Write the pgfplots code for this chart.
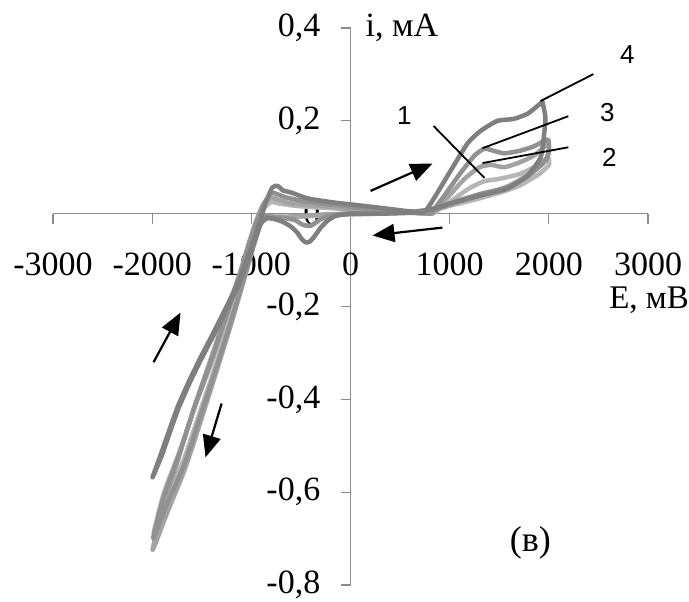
\documentclass[border=0pt]{standalone}
\usepackage{pgfplots}
\pgfplotsset{compat=1.18}
\usepackage{fontspec}
\setmainfont{Liberation Serif}
\newfontfamily\sansf{Liberation Sans}
\usetikzlibrary{arrows.meta}
\definecolor{axgray}{HTML}{8C8C8C}
\definecolor{cD}{HTML}{7F7F7F}
\definecolor{cC3}{HTML}{919191}
\definecolor{cC2}{HTML}{A3A3A3}
\definecolor{cC1}{HTML}{B6B6B6}
\begin{document}
\begin{tikzpicture}
\begin{axis}[name=ax, scale only axis, width=595pt, height=557pt,
 xmin=-3000, xmax=3000, ymin=-0.8, ymax=0.4,
 axis lines=middle, axis line style={draw=axgray, line width=1.2pt, -},
 hide obscured x ticks=false, hide obscured y ticks=false,
 xtick={-3000,-2000,-1000,0,1000,2000,3000},
 xticklabels={-3000,-2000,-1000,0,1000,2000,3000},
 ytick={-0.8,-0.6,-0.4,-0.2,0,0.2,0.4},
 yticklabels={{-0,8},{-0,6},{-0,4},{-0,2},0,{0,2},{0,4}},
 tick style={draw=axgray, line width=1.2pt},
 major tick length=10pt, tick align=outside,
 tick label style={font=\fontsize{34}{40}\selectfont, inner sep=0pt},
 xticklabel style={anchor=north, yshift=-29pt},
 yticklabel style={anchor=east, xshift=-20pt},
 xlabel={E, мВ}, ylabel={i, мА},
 xlabel style={at={(axis description cs:1,0.6667)}, anchor=north east, xshift=41pt, yshift=-73pt, inner sep=0pt, font=\fontsize{33}{38}\selectfont},
 ylabel style={at={(axis description cs:0.5,1)}, anchor=west, rotate=0, xshift=15pt, inner sep=0pt, font=\fontsize{34}{40}\selectfont},
 clip=false, scaled ticks=false,
 every axis plot/.append style={line width=4.5pt, line join=round, line cap=round, smooth, tension=0.35},
]
% cycle 1 (lightest)
\addplot[color=cC1] coordinates {
(830,0.0)(1000,0.025)(1200,0.055)(1350,0.07)(1500,0.075)(1700,0.085)(1850,0.1)(1990,0.12)(2000,0.105)(1900,0.085)(1700,0.06)(1500,0.045)(1250,0.03)(1000,0.017)(850,0.008)
(600,0.003)(300,0.0)(0,-0.002)(-300,-0.004)(-600,-0.008)(-800,-0.008)(-880,-0.006)
(-927,-0.03)(-988,-0.07)(-1079,-0.137)(-1210,-0.23)(-1341,-0.316)(-1512,-0.423)(-1683,-0.531)(-1865,-0.615)(-1986,-0.689)
(-1880,-0.6)(-1720,-0.51)(-1560,-0.41)(-1400,-0.32)(-1250,-0.225)(-1110,-0.135)(-1010,-0.065)(-940,-0.02)(-880,0.01)(-800,0.025)(-720,0.022)(-600,0.018)(-400,0.014)(-200,0.012)(0,0.008)(300,0.004)(600,0.002)(830,0.0)
};
% cycle 2
\addplot[color=cC2] coordinates {
(820,0.0)(1000,0.04)(1150,0.075)(1300,0.1)(1420,0.105)(1550,0.1)(1700,0.11)(1850,0.125)(1990,0.15)(2000,0.13)(1950,0.11)(1800,0.085)(1600,0.06)(1400,0.045)(1150,0.03)(900,0.012)
(600,0.004)(300,0.001)(0,0.0)(-300,-0.002)(-600,-0.006)(-800,-0.006)(-870,-0.004)
(-920,-0.03)(-980,-0.072)(-1070,-0.14)(-1200,-0.235)(-1330,-0.325)(-1500,-0.44)(-1670,-0.55)(-1850,-0.645)(-1996,-0.725)
(-1900,-0.64)(-1740,-0.53)(-1580,-0.42)(-1420,-0.32)(-1270,-0.225)(-1120,-0.13)(-1020,-0.06)(-950,-0.015)(-880,0.02)(-800,0.035)(-730,0.03)(-600,0.022)(-400,0.018)(-200,0.015)(0,0.01)(300,0.005)(600,0.002)(820,0.0)
};
% cycle 3
\addplot[color=cC3] coordinates {
(810,0.0)(950,0.04)(1100,0.085)(1250,0.125)(1350,0.14)(1450,0.135)(1550,0.13)(1700,0.135)(1850,0.145)(1990,0.16)(2000,0.14)(1980,0.12)(1900,0.10)(1750,0.075)(1550,0.055)(1300,0.042)(1000,0.022)(820,0.006)
(600,0.003)(300,0.001)(0,0.0)(-200,-0.004)(-300,-0.012)(-400,-0.026)(-480,-0.024)(-560,-0.014)(-680,-0.009)(-800,-0.008)(-870,-0.005)
(-925,-0.03)(-985,-0.07)(-1075,-0.138)(-1205,-0.232)(-1335,-0.32)(-1505,-0.43)(-1675,-0.54)(-1860,-0.63)(-1990,-0.70)
(-1890,-0.615)(-1730,-0.52)(-1570,-0.415)(-1410,-0.32)(-1260,-0.225)(-1115,-0.133)(-1015,-0.062)(-945,-0.017)(-875,0.02)(-800,0.045)(-740,0.042)(-650,0.035)(-500,0.028)(-300,0.022)(-100,0.018)(100,0.012)(400,0.006)(650,0.002)(810,0.0)
};
% cycle 4 (darkest)
\addplot[color=cD] coordinates {
(1935,0.241)(1966,0.206)(1945,0.157)(1915,0.12)(1784,0.082)(1583,0.054)(1310,0.039)(1008,0.022)(806,0.009)
(600,0.002)(300,0.0)(0,0.0)(-150,-0.005)(-230,-0.015)(-300,-0.03)(-360,-0.048)(-410,-0.06)(-450,-0.062)(-490,-0.055)(-540,-0.04)(-600,-0.028)(-680,-0.018)(-760,-0.012)(-840,-0.01)
(-905,-0.022)(-968,-0.06)(-1038,-0.103)(-1129,-0.153)(-1240,-0.202)(-1371,-0.258)(-1502,-0.312)(-1623,-0.365)(-1734,-0.419)(-1825,-0.473)(-1905,-0.522)(-1996,-0.568)
(-1915,-0.52)(-1835,-0.471)(-1744,-0.417)(-1633,-0.363)(-1512,-0.310)(-1381,-0.256)(-1250,-0.200)(-1139,-0.151)(-1048,-0.101)(-978,-0.058)(-917,-0.019)(-857,0.022)(-790,0.056)(-736,0.060)(-680,0.05)(-605,0.046)(-433,0.033)(-202,0.025)(0,0.02)(202,0.015)(400,0.01)(600,0.005)(756,0.006)
(1008,0.092)(1179,0.151)(1310,0.178)(1482,0.2)(1643,0.204)(1784,0.215)(1885,0.232)(1935,0.241)
};
% annotation arrows
\draw[black, line width=2.2pt, -{Triangle[length=22pt,width=18pt]}] (axis cs:202,0.049) -- (axis cs:827,0.108);
\draw[black, line width=2.2pt, -{Triangle[length=22pt,width=18pt]}] (axis cs:927,-0.030) -- (axis cs:222,-0.047);
\draw[black, line width=2.2pt, -{Triangle[length=22pt,width=18pt]}] (axis cs:-1986,-0.320) -- (axis cs:-1714,-0.213);
\draw[black, line width=2.2pt, -{Triangle[length=22pt,width=18pt]}] (axis cs:-1300,-0.409) -- (axis cs:-1462,-0.525);
% pointer lines
\draw[black, line width=1.8pt] (axis cs:1915,0.2425) -- (axis cs:2449,0.3006);
\draw[black, line width=1.8pt] (axis cs:1331,0.141) -- (axis cs:2197,0.210);
\draw[black, line width=1.8pt] (axis cs:1331,0.109) -- (axis cs:2197,0.143);
\draw[black, line width=1.8pt] (axis cs:837,0.189) -- (axis cs:1351,0.077);
\node[font=\sansf\fontsize{26}{30}\selectfont] at (axis cs:2792,0.342) {4};
\node[font=\sansf\fontsize{26}{30}\selectfont] at (axis cs:2591,0.217) {3};
\node[font=\sansf\fontsize{26}{30}\selectfont] at (axis cs:2611,0.122) {2};
\node[font=\sansf\fontsize{26}{30}\selectfont] at (axis cs:544,0.212) {1};
\node[font=\fontsize{36}{40}\selectfont] at (axis cs:1814,-0.71) {(в)};
\end{axis}
\pgfresetboundingbox
\path[use as bounding box] ([xshift=-53pt,yshift=-16pt]ax.south west) rectangle ([xshift=41pt,yshift=28pt]ax.north east);
\end{tikzpicture}
\end{document}
